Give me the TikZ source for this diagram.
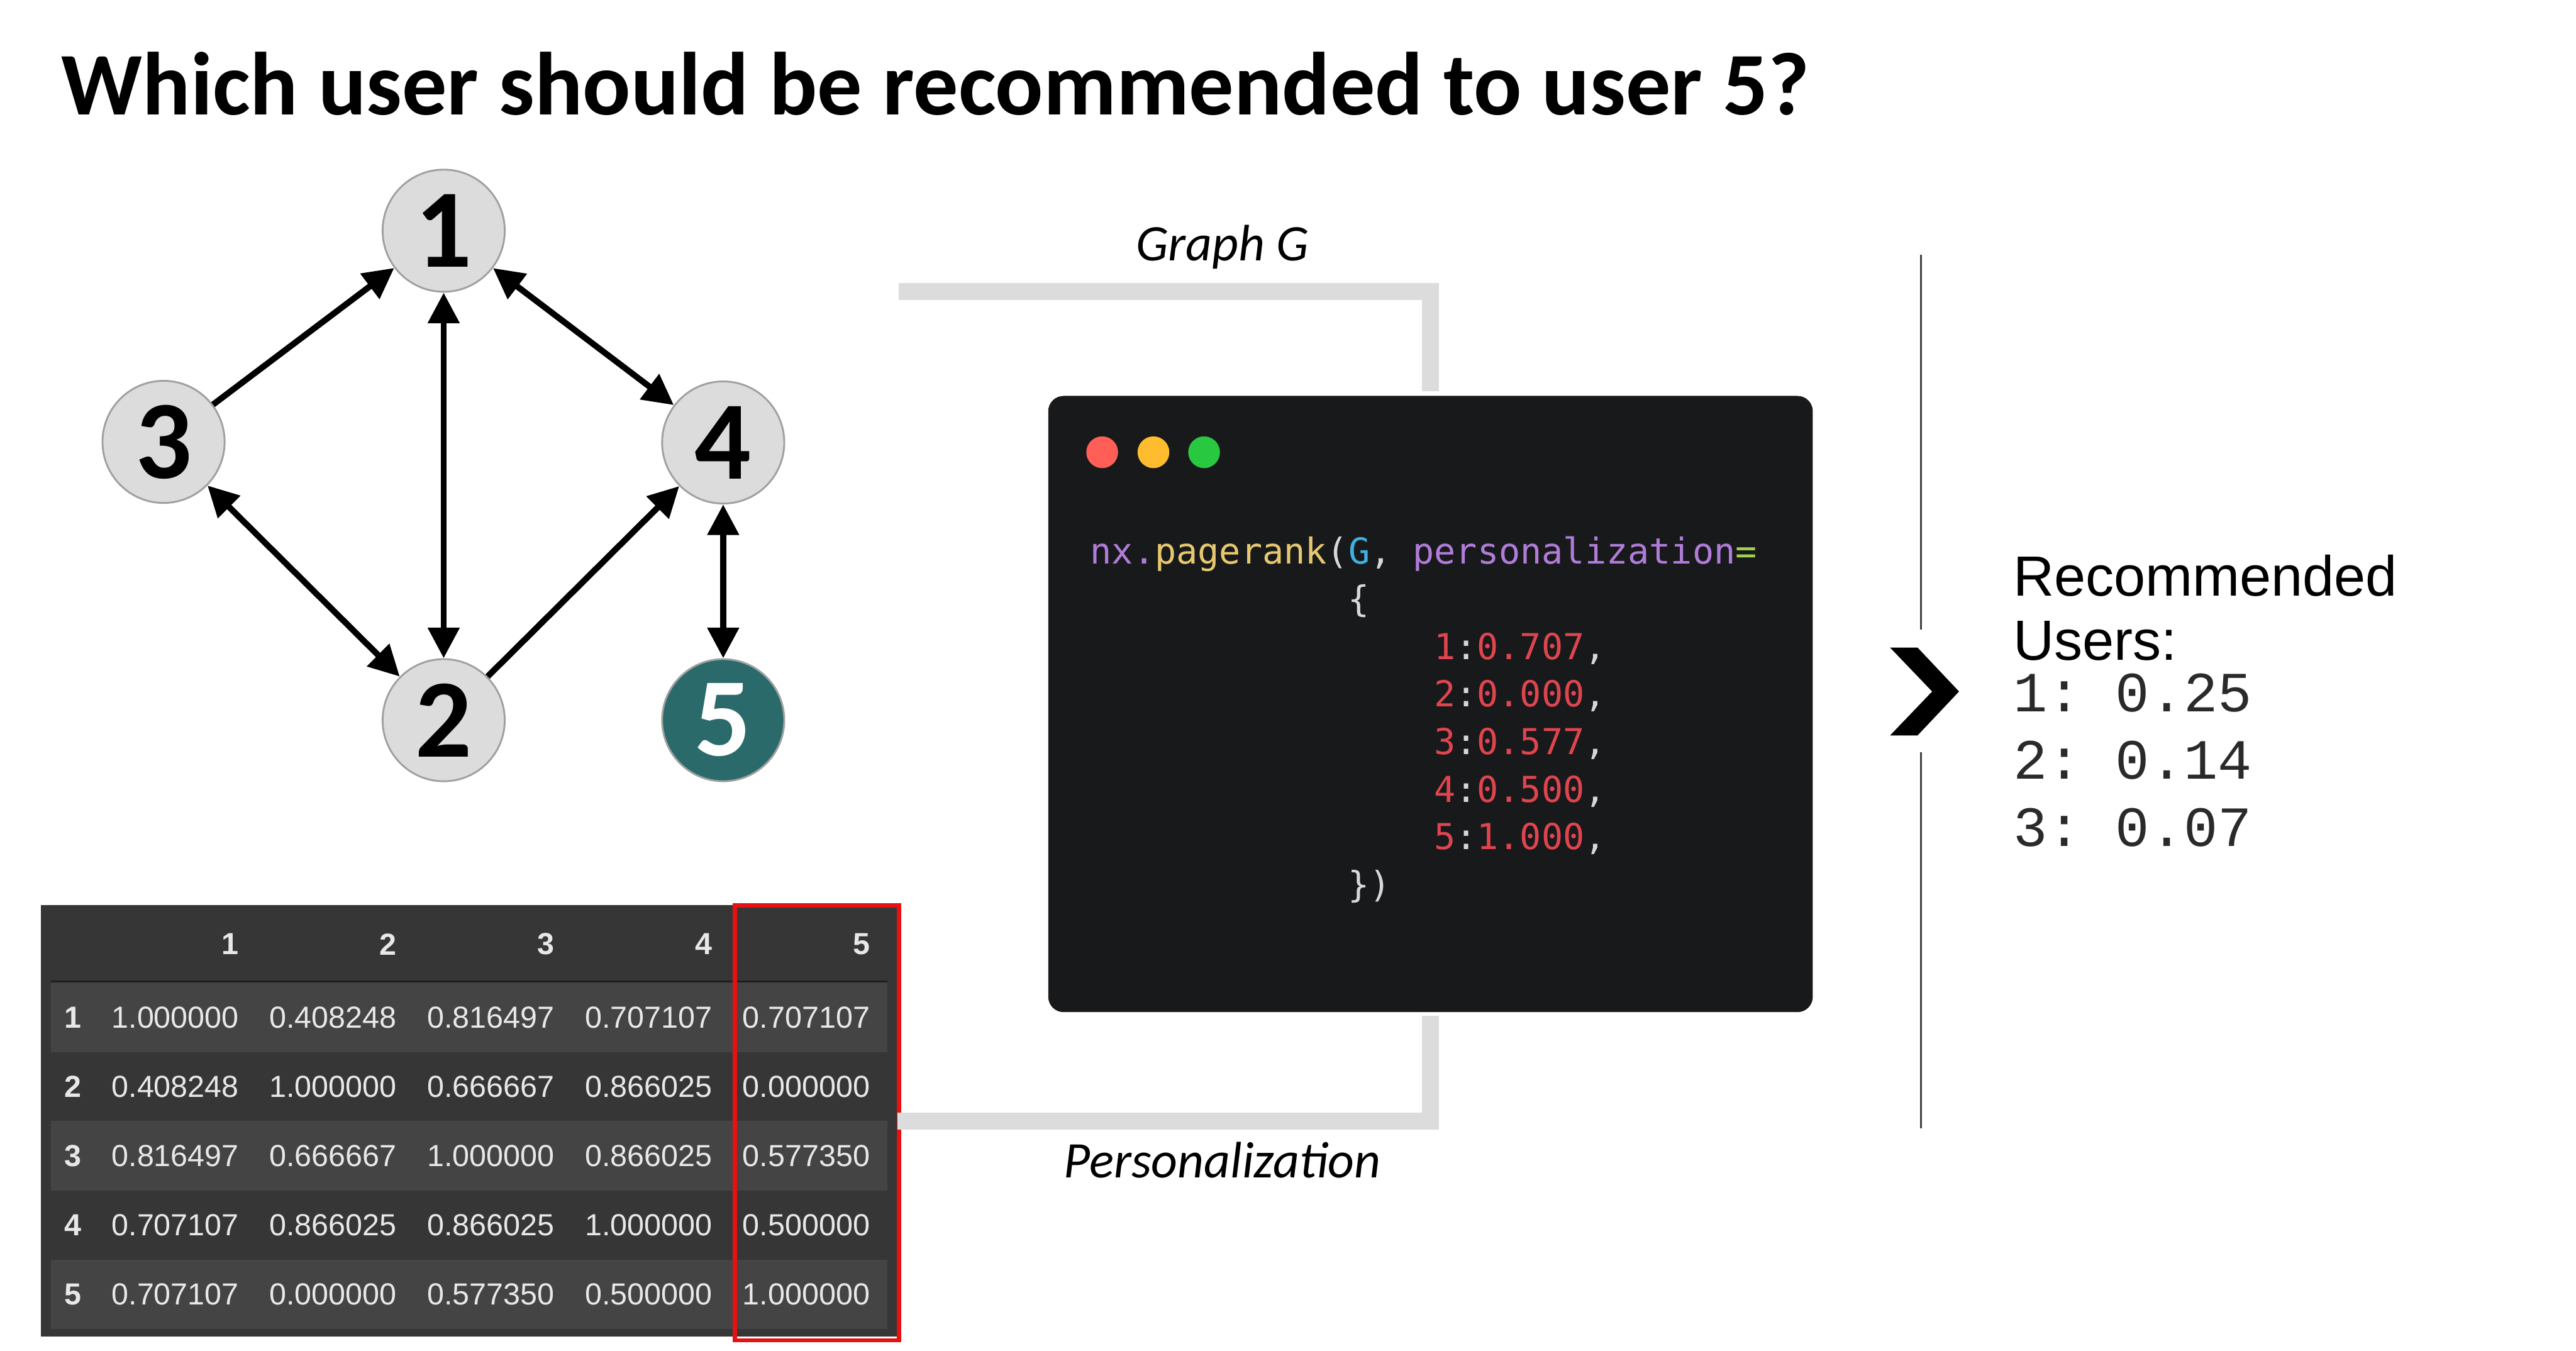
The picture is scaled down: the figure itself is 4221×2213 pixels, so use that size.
\documentclass[tikz,border=0pt]{standalone}
\usepackage{fontspec}
\usetikzlibrary{arrows.meta}
\newfontfamily\calfont{Carlito}
\newfontfamily\codefont{DejaVu Sans Mono}
\newfontfamily\arialfont{Liberation Sans}
\newfontfamily\courfont{Liberation Mono}
\definecolor{nodegray}{HTML}{DCDCDC}
\definecolor{nodeline}{HTML}{A0A0A0}
\definecolor{teal5}{HTML}{2A6A6B}
\definecolor{pipegray}{HTML}{DCDCDC}
\definecolor{winbg}{HTML}{18191B}
\definecolor{dotred}{HTML}{FF5F57}
\definecolor{dotyellow}{HTML}{FEBC2E}
\definecolor{dotgreen}{HTML}{28C840}
\definecolor{cpurple}{HTML}{B07CD8}
\definecolor{cyellow}{HTML}{E6C86E}
\definecolor{cblue}{HTML}{3FB0E0}
\definecolor{cgreen}{HTML}{A0D050}
\definecolor{cred}{HTML}{E0454F}
\definecolor{cgray}{HTML}{D8D8D8}
\definecolor{tabbg}{HTML}{363636}
\definecolor{rowlight}{HTML}{444444}
\definecolor{tabline}{HTML}{1E1E1E}
\definecolor{tabtext}{HTML}{E8E8E8}
\definecolor{boxred}{HTML}{E81010}
\definecolor{sepgray}{HTML}{404040}
\definecolor{listgray}{HTML}{2A2A2A}
\tikzset{
  Head/.tip={Triangle[length=0.5cm,width=0.5cm]},
  user/.style={circle, draw=nodeline, line width=0.85pt, fill=nodegray, minimum size=2cm, inner sep=0pt,
    font=\calfont\bfseries\fontsize{52}{60}\selectfont},
  link/.style={line width=2.85pt, Head-Head},
  onelink/.style={line width=2.85pt, -Head},
  pipe/.style={line width=0.28cm, draw=pipegray},
  dot/.style={circle, minimum size=0.52cm, inner sep=0pt},
  code/.style={anchor=base west, inner sep=0pt, text=cgray, font=\codefont\fontsize{16.64}{20}\selectfont},
  thead/.style={inner sep=0pt, text=tabtext, font=\arialfont\bfseries\fontsize{14.2}{17}\selectfont},
  tcell/.style={anchor=east, inner sep=0pt, text=tabtext, font=\arialfont\fontsize{14.2}{17}\selectfont},
}
\begin{document}
\begin{tikzpicture}[x=0.01cm,y=-0.01cm]
\useasboundingbox (0,0) rectangle (4221,2213);

% title
\node[anchor=base west, inner sep=0pt, font=\calfont\bfseries\fontsize{41.7}{48}\selectfont] (title) at (100,188)
  {Which user should be recommended to user 5?};

% graph of users
\node[user] (u1) at (727,378) {1};
\node[user] (u3) at (268,724) {3};
\node[user] (u4) at (1185,725) {4};
\node[user] (u2) at (727,1180) {2};
\node[user, fill=teal5, text=white] (u5) at (1185,1180) {5};

\draw[onelink] (u3) -- (u1);
\draw[link] (u1) -- (u2);
\draw[link] (u1) -- (u4);
\draw[link] (u3) -- (u2);
\draw[onelink] (u2) -- (u4);
\draw[link] (u4) -- (u5);

% similarity table
\fill[tabbg] (67,1483) rectangle (1475,2190);
\foreach \i in {1,3,5}
  \fill[rowlight] (83,{1610+113.4*(\i-1)}) rectangle (1454,{1724+113.4*(\i-1)});
\draw[tabline, line width=0.85pt] (83,1608) -- (1454,1608);
\foreach \j in {1,...,5}
  \node[thead, anchor=east] (head\j) at ({392+258.5*(\j-1)},1547) {\j};
\foreach \row [count=\i] in {
  {1.000000,0.408248,0.816497,0.707107,0.707107},
  {0.408248,1.000000,0.666667,0.866025,0.000000},
  {0.816497,0.666667,1.000000,0.866025,0.577350},
  {0.707107,0.866025,0.866025,1.000000,0.500000},
  {0.707107,0.000000,0.577350,0.500000,1.000000}} {
  \node[thead] (idx\i) at (119,{1667+113.4*(\i-1)}) {\i};
  \foreach \val [count=\j] in \row
    \node[tcell] (cell-\i-\j) at ({392+258.5*(\j-1)},{1667+113.4*(\i-1)}) {\val};
}
\draw[boxred, line width=2pt] (1204,1483) rectangle (1473,2196);

% code window
\node[fill=winbg, rounded corners=0.25cm, minimum width=12.52cm, minimum height=10.09cm, inner sep=0pt] (win) at (2344,1153.5) {};
\node[dot, fill=dotred] (dot1) at (1806,741) {};
\node[dot, fill=dotyellow] (dot2) at (1890,741) {};
\node[dot, fill=dotgreen] (dot3) at (1973,741) {};

\node[code] (code0) at (1786,924) {\textcolor{cpurple}{nx.}\textcolor{cyellow}{pagerank}(\textcolor{cblue}{G}, \textcolor{cpurple}{personalization}\textcolor{cgreen}{=}};
\node[code] (code1) at (2208,1002) {\{};
\foreach \k/\v [count=\i] in {1/0.707,2/0.000,3/0.577,4/0.500,5/1.000}
  \node[code] (kv\i) at (2349,{1002+78*\i}) {\textcolor{cred}{\k}:\textcolor{cred}{\v},};
\node[code] (code7) at (2208,1470) {\})};

% connectors into the window
\coordinate (gin) at (1473,478);
\coordinate (pin) at (1471,1837);
\draw[pipe, shorten >=0.07cm] (gin) -| (win.north);
\draw[pipe, shorten >=0.05cm] (pin) -| (win.south);
\node[anchor=base, inner sep=0pt, font=\calfont\itshape\fontsize{23.9}{28}\selectfont] (glabel) at (2003,427) {Graph G};
\node[anchor=base, inner sep=0pt, font=\calfont\itshape\fontsize{23.9}{28}\selectfont] (plabel) at (2003,1930) {Personalization};

% result side
\draw[sepgray, line width=0.85pt] (3148,417) -- (3148,1032);
\draw[sepgray, line width=0.85pt] (3148,1233) -- (3148,1849);
\fill[black] (3097,1061) -- (3142,1061) -- (3210,1133) -- (3142,1205) -- (3097,1205) -- (3166,1133) -- cycle;

\node[anchor=base west, inner sep=0pt, font=\arialfont\fontsize{26.4}{31}\selectfont] (rec1) at (3298,976) {Recommended};
\node[anchor=base west, inner sep=0pt, font=\arialfont\fontsize{26.4}{31}\selectfont] (rec2) at (3298,1082) {Users:};
\foreach \u/\s [count=\i] in {1/0.25,2/0.14,3/0.07}
  \node[anchor=base west, inner sep=0pt, text=listgray, font=\courfont\frenchspacing\fontsize{26.5}{31}\selectfont] (res\i) at (3298,{1166+110.5*(\i-1)}) {\u: \s};
\end{tikzpicture}
\end{document}
